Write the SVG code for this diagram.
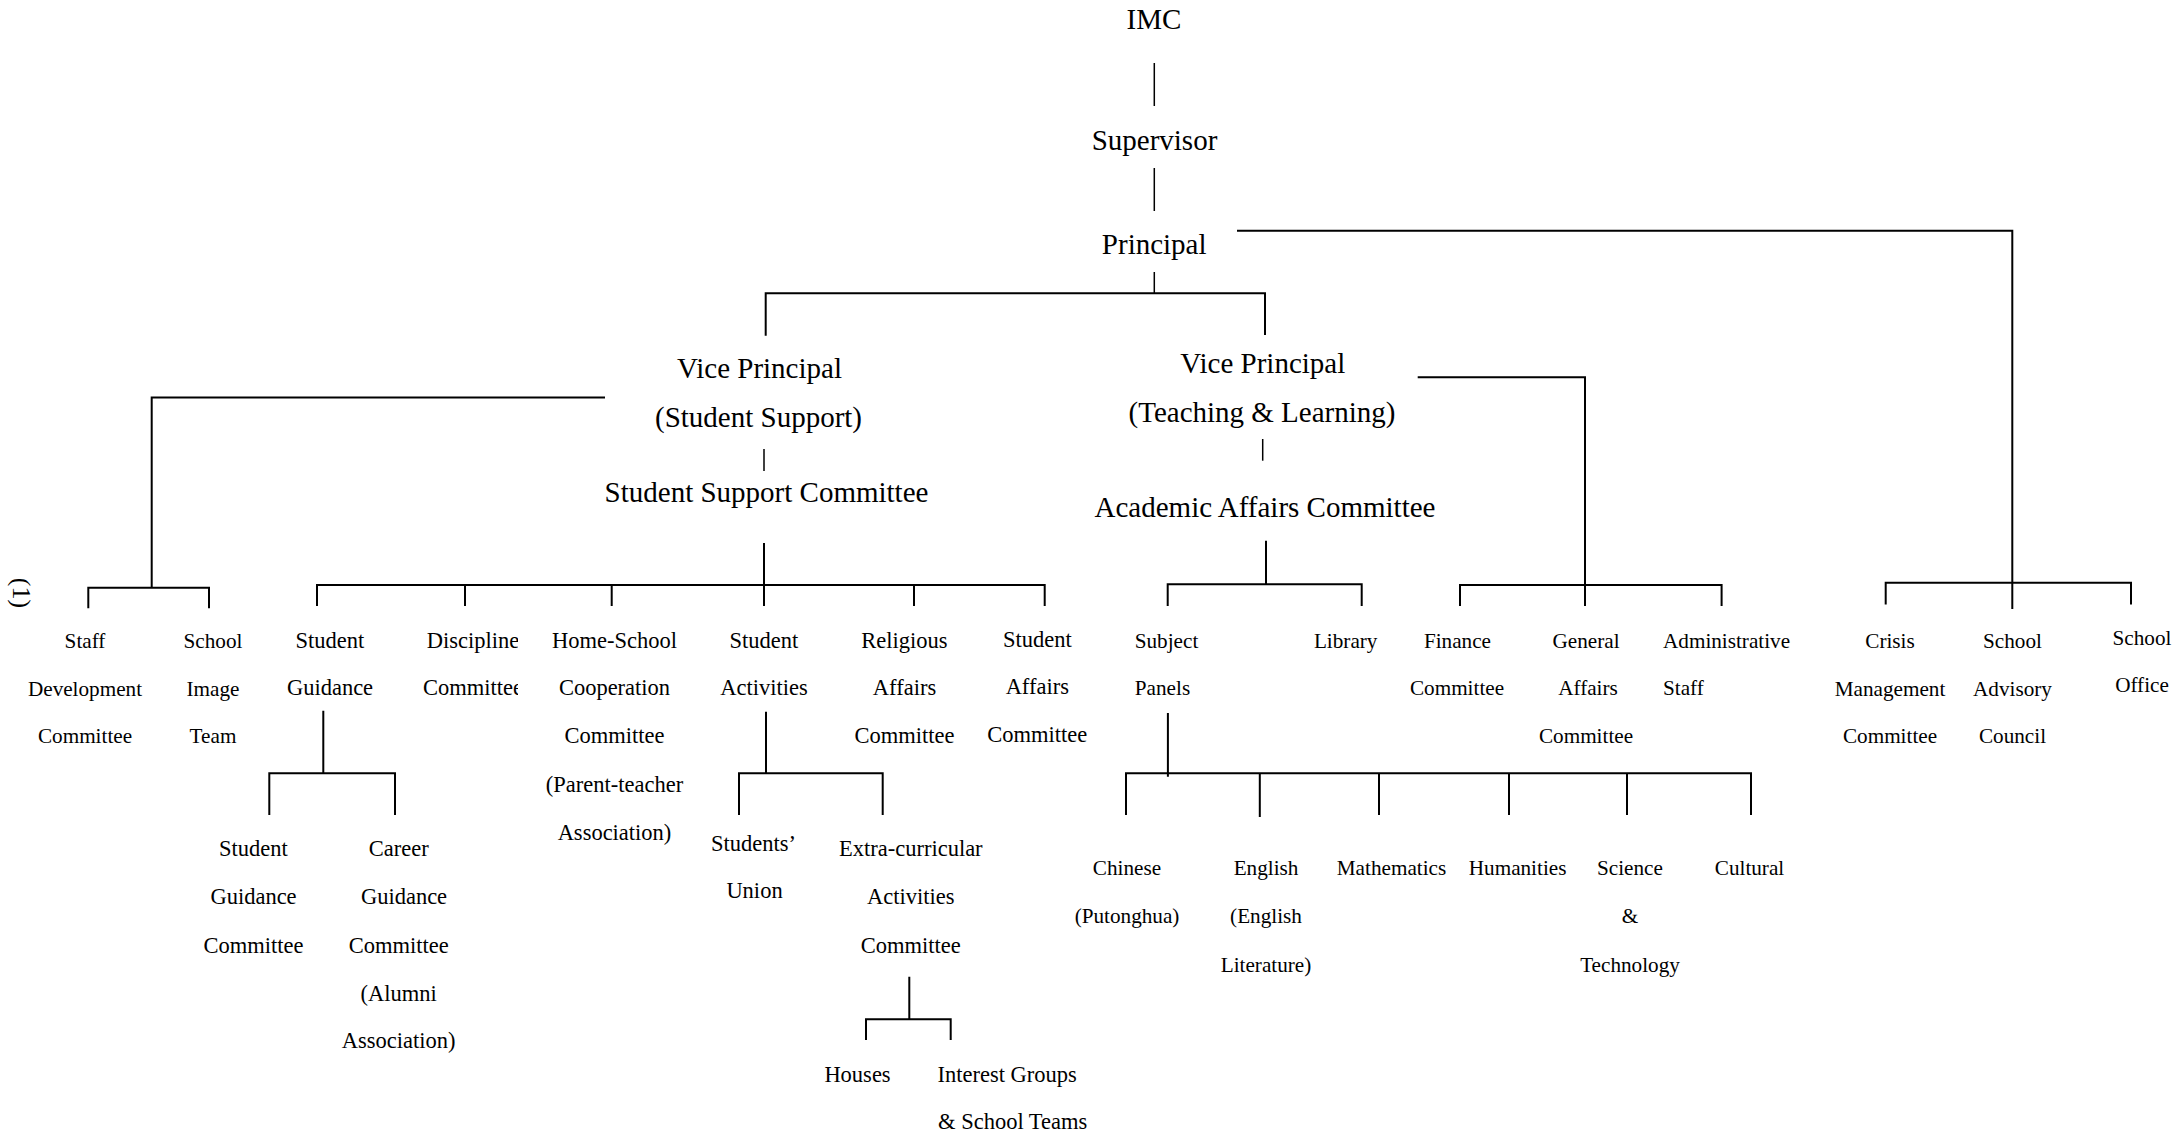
<svg xmlns="http://www.w3.org/2000/svg" width="2184" height="1135" viewBox="0 0 2184 1135">
<style>
text{font-family:"Liberation Serif","Times New Roman",serif;fill:#000;text-anchor:middle}
.big{font-size:29px}
.sm{font-size:21.2px}
.md{font-size:22.5px}
.st{text-anchor:start}
.ln{fill:none;stroke:#000;stroke-width:2}
.th{fill:none;stroke:#000;stroke-width:1.5}
</style>
<defs>
<clipPath id="clipDisc"><rect x="400" y="600" width="118" height="180"/></clipPath>
</defs>
<rect width="2184" height="1135" fill="#fff"/>
<g id="connectors">
<path class="th" d="M1154.3 63V106M1154.3 168V211M1154.3 272V293"/>
<path class="ln" d="M765.7 335.7V293.3H1265V335"/>
<path class="ln" d="M1237 230.7H2012.3V609"/>
<path class="ln" d="M1885.7 604.5V582.7H2131V604.5"/>
<path class="ln" d="M605 397.5H151.7V587.7"/>
<path class="ln" d="M88.3 608.3V587.7H209V608.3"/>
<path class="th" d="M764 449V471"/>
<path class="ln" d="M764 543V606"/>
<path class="ln" d="M317 606V585H1044.7V606M465 585V606M611.7 585V606M914 585V606"/>
<path class="ln" d="M323.3 710.7V773.3M269.3 815V773.3H395V815"/>
<path class="ln" d="M766 711.7V773.3M739 815V773.3H882.7V815"/>
<path class="ln" d="M909.3 976.7V1019.3M866 1040V1019.3H950.7V1040"/>
<path class="th" d="M1262.7 439V460.7"/>
<path class="ln" d="M1266 540.7V584.3M1167.7 606V584.3H1361.7V606"/>
<path class="ln" d="M1417.7 377.3H1585V606M1460 606V585H1721.6V606"/>
<path class="ln" d="M1167.9 713V776.7M1126 815V773.3H1751V815M1259.8 773.3V817M1379 773.3V815M1509 773.3V815M1627 773.3V815"/>
</g>
<g id="marker-1"><text transform="translate(20,593) rotate(90)" x="0" y="7" style="font-size:26px">(1)</text></g>
<g id="imc"><text class="big" x="1154" y="29">IMC</text></g>
<g id="supervisor"><text class="big" x="1154.5" y="150">Supervisor</text></g>
<g id="principal"><text class="big" x="1154.2" y="254">Principal</text></g>
<g id="vp-ss"><text class="big" x="759.5" y="378">Vice Principal</text><text class="big" x="758.5" y="427">(Student Support)</text></g>
<g id="ssc"><text class="big" x="766.5" y="502">Student Support Committee</text></g>
<g id="vp-tl"><text class="big" x="1262.8" y="372.7">Vice Principal</text><text class="big" x="1262" y="421.7">(Teaching &amp; Learning)</text></g>
<g id="aac"><text class="big" x="1265" y="516.7">Academic Affairs Committee</text></g>
<g id="staff-dev"><text class="sm" x="85" y="648">Staff</text><text class="sm" x="85" y="696">Development</text><text class="sm" x="85" y="743.3">Committee</text></g>
<g id="school-image"><text class="sm" x="213" y="648">School</text><text class="sm" x="213" y="696">Image</text><text class="sm" x="213" y="743.3">Team</text></g>
<g id="student-guidance"><text class="md" x="330" y="648">Student</text><text class="md" x="330" y="695">Guidance</text></g>
<g id="discipline" clip-path="url(#clipDisc)"><text class="md" x="473" y="648">Discipline</text><text class="md" x="473" y="695">Committee</text></g>
<g id="home-school"><text class="md" x="614.5" y="648">Home-School</text><text class="md" x="614.5" y="695">Cooperation</text><text class="md" x="614.5" y="743.3">Committee</text><text class="md" x="614.5" y="791.7">(Parent-teacher</text><text class="md" x="614.5" y="840">Association)</text></g>
<g id="student-activities"><text class="md" x="764" y="648">Student</text><text class="md" x="764" y="695">Activities</text></g>
<g id="religious"><text class="md" x="904.5" y="648">Religious</text><text class="md" x="904.5" y="695">Affairs</text><text class="md" x="904.5" y="743.3">Committee</text></g>
<g id="student-affairs"><text class="md" x="1037.3" y="647">Student</text><text class="md" x="1037.3" y="694">Affairs</text><text class="md" x="1037.3" y="742">Committee</text></g>
<g id="sgc"><text class="md" x="253.5" y="856">Student</text><text class="md" x="253.5" y="904.3">Guidance</text><text class="md" x="253.5" y="952.7">Committee</text></g>
<g id="career"><text class="md" x="398.7" y="856">Career</text><text class="md" x="404" y="904.3">Guidance</text><text class="md" x="398.7" y="952.7">Committee</text><text class="md" x="398.7" y="1000.7">(Alumni</text><text class="md" x="398.7" y="1048.3">Association)</text></g>
<g id="students-union"><text class="md" x="753.5" y="850.7">Students’</text><text class="md" x="754.5" y="898.3">Union</text></g>
<g id="eca"><text class="md" x="910.8" y="856">Extra-curricular</text><text class="md" x="910.7" y="904">Activities</text><text class="md" x="910.7" y="952.7">Committee</text></g>
<g id="houses"><text class="md" x="857.5" y="1081.7">Houses</text></g>
<g id="interest"><text class="md st" x="937.5" y="1081.7">Interest Groups</text><text class="md st" x="938" y="1129">&amp; School Teams</text></g>
<g id="subject-panels"><text class="sm" x="1166.5" y="647.7">Subject</text><text class="sm" x="1162.5" y="695">Panels</text></g>
<g id="library"><text class="sm" x="1345.7" y="647.7">Library</text></g>
<g id="finance"><text class="sm" x="1457.5" y="648">Finance</text><text class="sm" x="1457" y="695">Committee</text></g>
<g id="general"><text class="sm" x="1586" y="648">General</text><text class="sm" x="1588" y="695">Affairs</text><text class="sm" x="1586" y="743">Committee</text></g>
<g id="admin"><text class="sm st" x="1663" y="648">Administrative</text><text class="sm st" x="1663" y="695">Staff</text></g>
<g id="crisis"><text class="sm" x="1890" y="648">Crisis</text><text class="sm" x="1890" y="696">Management</text><text class="sm" x="1890" y="743.3">Committee</text></g>
<g id="advisory"><text class="sm" x="2012.5" y="648">School</text><text class="sm" x="2012.5" y="696">Advisory</text><text class="sm" x="2012.5" y="743.3">Council</text></g>
<g id="office"><text class="sm" x="2142" y="645">School</text><text class="sm" x="2142" y="692">Office</text></g>
<g id="chinese"><text class="sm" x="1127" y="875">Chinese</text><text class="sm" x="1127" y="923.3">(Putonghua)</text></g>
<g id="english"><text class="sm" x="1266" y="875">English</text><text class="sm" x="1266" y="923.3">(English</text><text class="sm" x="1266" y="971.7">Literature)</text></g>
<g id="maths"><text class="sm" x="1391.5" y="875">Mathematics</text></g>
<g id="humanities"><text class="sm" x="1517.6" y="875">Humanities</text></g>
<g id="science"><text class="sm" x="1630" y="875">Science</text><text class="sm" x="1630" y="923.3">&amp;</text><text class="sm" x="1630" y="971.7">Technology</text></g>
<g id="cultural"><text class="sm" x="1749.5" y="875">Cultural</text></g>
</svg>
